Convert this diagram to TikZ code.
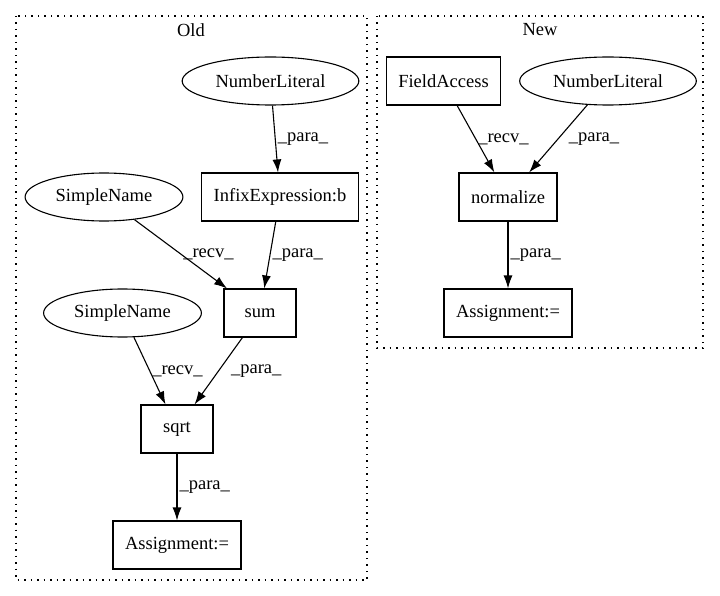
\documentclass[tikz,border=0pt]{standalone}
\usepackage{fontspec}
\setmainfont{Liberation Serif}
\usetikzlibrary{shapes.geometric,arrows.meta}

\tikzset{
  box/.style={draw, rectangle, line width=1.1pt, minimum height=48pt, minimum width=72pt, inner xsep=12pt},
  lit/.style={draw, ellipse, line width=1.1pt, minimum height=48pt, inner xsep=7.5pt},
  edge/.style={->, line width=1.1pt},
  lbl/.style={midway, right, inner sep=2pt},
  cluster/.style={line width=1.3pt, dash pattern=on 1.5pt off 5pt},
}

\begin{document}
\begin{tikzpicture}[x=1pt, y=-1pt, >={Latex[length=13pt,width=9pt]},
  every node/.style={font=\fontsize{18.5}{22}\selectfont}]
\useasboundingbox (0,0) rectangle (720,596);

% clusters
\draw[cluster] (16,16) rectangle (367,580);
\draw[cluster] (377,16) rectangle (703,348);
\node (oldTitle) at (191,30) {Old};
\node (newTitle) at (540,30) {New};

% Old
\node[lit] (oldNum) at (270.5,81) {NumberLiteral};
\node[box] (oldInfix) at (280,197) {InfixExpression:b};
\node[lit] (oldName1) at (104,197) {SimpleName};
\node[box] (oldSum) at (260,313) {sum};
\node[lit] (oldName2) at (122.5,313) {SimpleName};
\node[box] (oldSqrt) at (177,429) {sqrt};
\node[box] (oldAssign) at (177,545) {Assignment:=};

\draw[edge] (oldNum) -- (oldInfix) node[lbl]{\_para\_};
\draw[edge] (oldInfix) -- (oldSum) node[lbl]{\_para\_};
\draw[edge] (oldName1) -- (oldSum) node[lbl]{\_recv\_};
\draw[edge] (oldSum) -- (oldSqrt) node[lbl, xshift=10pt]{\_para\_};
\draw[edge] (oldName2) -- (oldSqrt) node[lbl]{\_recv\_};
\draw[edge] (oldSqrt) -- (oldAssign) node[lbl]{\_para\_};

% New
\node[box] (newField) at (443.5,81) {FieldAccess};
\node[lit] (newNum) at (608,81) {NumberLiteral};
\node[box] (newNorm) at (508,197) {normalize};
\node[box] (newAssign) at (508,313) {Assignment:=};

\draw[edge] (newField) -- (newNorm) node[lbl]{\_recv\_};
\draw[edge] (newNum) -- (newNorm) node[lbl, xshift=8pt]{\_para\_};
\draw[edge] (newNorm) -- (newAssign) node[lbl]{\_para\_};
\end{tikzpicture}
\end{document}
